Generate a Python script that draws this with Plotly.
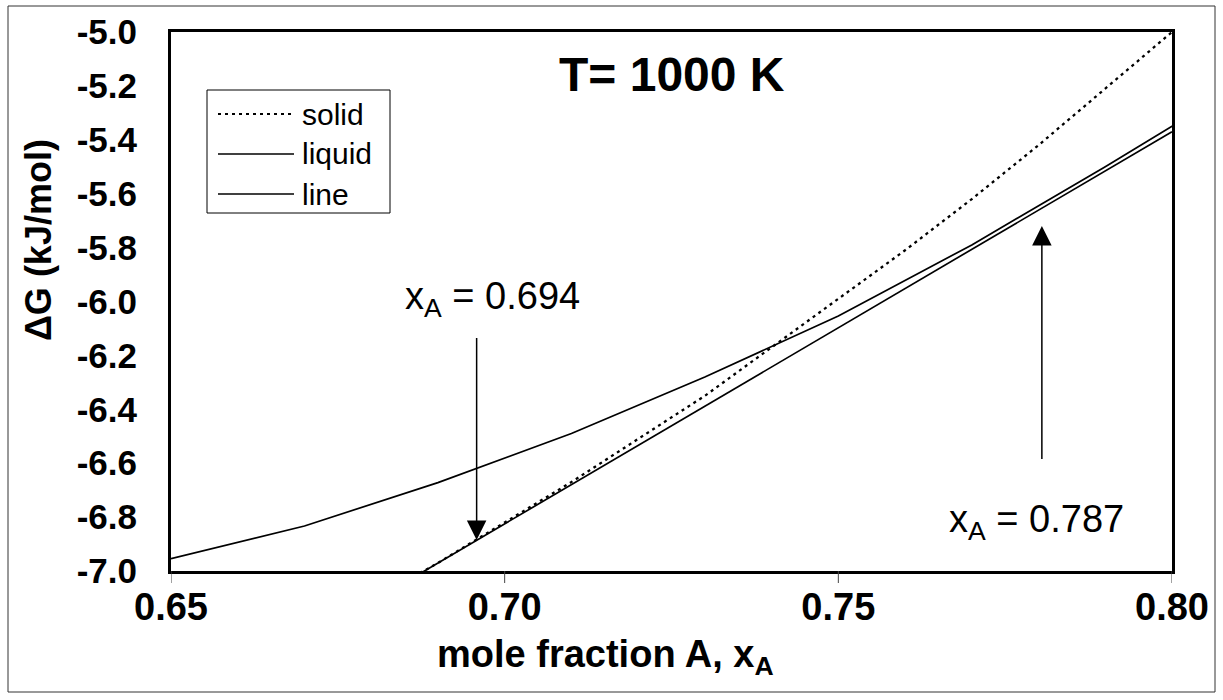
import plotly.graph_objects as go

# ---- data ----
solid_x = [0.68, 0.69, 0.70, 0.71, 0.72, 0.73, 0.74, 0.75, 0.76, 0.77, 0.78, 0.79, 0.80]
solid_y = [-7.11, -6.97, -6.82, -6.67, -6.51, -6.35, -6.17, -5.99, -5.81, -5.62, -5.42, -5.21, -5.00]

liquid_x = [0.65, 0.67, 0.69, 0.71, 0.73, 0.75, 0.77, 0.79, 0.81]
liquid_y = [-6.954, -6.833, -6.672, -6.490, -6.28, -6.054, -5.79, -5.50, -5.20]

line_x = [0.68, 0.80]
line_y = [-7.116, -5.370]

series_names = ["solid", "liquid", "line"]

x_ticks = [0.65, 0.70, 0.75, 0.80]
x_tick_text = ["0.65", "0.70", "0.75", "0.80"]
y_ticks = [-5.0, -5.2, -5.4, -5.6, -5.8, -6.0, -6.2, -6.4, -6.6, -6.8, -7.0]
y_tick_text = ["-5.0", "-5.2", "-5.4", "-5.6", "-5.8", "-6.0", "-6.2", "-6.4", "-6.6", "-6.8", "-7.0"]

FONT = "Liberation Sans, Arial, sans-serif"
DOT = "3px,4px"

fig = go.Figure()
fig.add_trace(go.Scatter(x=solid_x, y=solid_y, mode="lines", name=series_names[0],
                         showlegend=False,
                         line=dict(color="black", width=2.3, dash=DOT)))
fig.add_trace(go.Scatter(x=liquid_x, y=liquid_y, mode="lines", name=series_names[1],
                         showlegend=False,
                         line=dict(color="black", width=1.7)))
fig.add_trace(go.Scatter(x=line_x, y=line_y, mode="lines", name=series_names[2],
                         showlegend=False,
                         line=dict(color="black", width=1.7)))

L, R, T, B = 171, 1172, 32, 571
W, H = 1223, 700
pw, ph = R - L, B - T

def px(xp):
    return (xp - L) / pw

def py(yp):
    return (B - yp) / ph

fig.update_layout(
    width=W, height=H,
    margin=dict(l=L, r=W - R, t=T, b=H - B, pad=0),
    paper_bgcolor="white", plot_bgcolor="white",
    font=dict(family=FONT, color="black"),
    showlegend=False,
    xaxis=dict(range=[0.65, 0.80], tickvals=x_ticks, ticktext=x_tick_text,
               showgrid=False, zeroline=False,
               showline=True, linecolor="black", linewidth=3, mirror=True,
               ticks="",
               tickfont=dict(size=38, family=FONT, weight="bold"),
               ticklabelstandoff=0),
    yaxis=dict(range=[-7.0, -5.0], tickvals=y_ticks, ticktext=y_tick_text,
               showgrid=False, zeroline=False,
               showline=True, linecolor="black", linewidth=3, mirror=True,
               ticks="",
               tickfont=dict(size=35, family=FONT, weight="bold"),
               ticklabelstandoff=24),
)

annotations = [
    dict(text="<b>T= 1000 K</b>", xref="paper", yref="paper", x=px(672), y=py(75),
         xanchor="center", yanchor="middle",
         showarrow=False, font=dict(size=48, family=FONT)),
    dict(text="x<sub>A</sub> = 0.694", xref="x", yref="y", x=0.6982, y=-5.99,
         xanchor="center", yanchor="middle",
         showarrow=False, font=dict(size=38, family=FONT)),
    dict(text="x<sub>A</sub> = 0.787", xref="x", yref="y", x=0.7797, y=-6.82,
         xanchor="center", yanchor="middle",
         showarrow=False, font=dict(size=38, family=FONT)),
    dict(text="", xref="x", yref="y", x=0.6958, y=-6.885, axref="x", ayref="y",
         ax=0.6958, ay=-6.13, showarrow=True, arrowhead=2, arrowsize=2.6,
         arrowwidth=1.5, arrowcolor="black"),
    dict(text="", xref="x", yref="y", x=0.7805, y=-5.72, axref="x", ayref="y",
         ax=0.7805, ay=-6.59, showarrow=True, arrowhead=2, arrowsize=2.6,
         arrowwidth=1.5, arrowcolor="black"),
    dict(text="<b>mole fraction A, x<sub>A</sub></b>", xref="paper", yref="paper",
         x=px(605), y=py(657), xanchor="center", yanchor="middle",
         showarrow=False, font=dict(size=38, family=FONT)),
    dict(text="<b>\u0394G (kJ/mol)</b>", xref="paper", yref="paper",
         x=px(39), y=py(240), xanchor="center", yanchor="middle",
         textangle=-90, showarrow=False, font=dict(size=36, family=FONT)),
]

shapes = [
    dict(type="rect", xref="paper", yref="paper",
         x0=px(8), x1=px(1215), y0=py(692), y1=py(6),
         line=dict(color="#333", width=1), fillcolor="rgba(0,0,0,0)", layer="below"),
]
# outside x tick marks
for xt in x_ticks:
    shapes.append(dict(type="line", xref="x", yref="paper",
                       x0=xt, x1=xt, y0=0, y1=-12 / ph,
                       line=dict(color="#444", width=1), layer="above"))

# custom legend (box, line samples, labels)
leg_x0, leg_x1, leg_y0, leg_y1 = 207, 390, 90, 213
row_y = [114, 154, 194]
sample_dash = [DOT, "solid", "solid"]
shapes.append(dict(type="rect", xref="paper", yref="paper",
                   x0=px(leg_x0), x1=px(leg_x1), y0=py(leg_y1), y1=py(leg_y0),
                   line=dict(color="black", width=1), fillcolor="white", layer="above"))
for name, ry, dsh in zip(series_names, row_y, sample_dash):
    shapes.append(dict(type="line", xref="paper", yref="paper",
                       x0=px(218), x1=px(294), y0=py(ry), y1=py(ry),
                       line=dict(color="black", width=1.7 if dsh == "solid" else 2, dash=dsh),
                       layer="above"))
    annotations.append(dict(text=name, xref="paper", yref="paper",
                            x=px(300), y=py(ry), xanchor="left", yanchor="middle",
                            showarrow=False, font=dict(size=30, family=FONT)))

fig.update_layout(annotations=annotations, shapes=shapes)

fig.write_html("out.html")
